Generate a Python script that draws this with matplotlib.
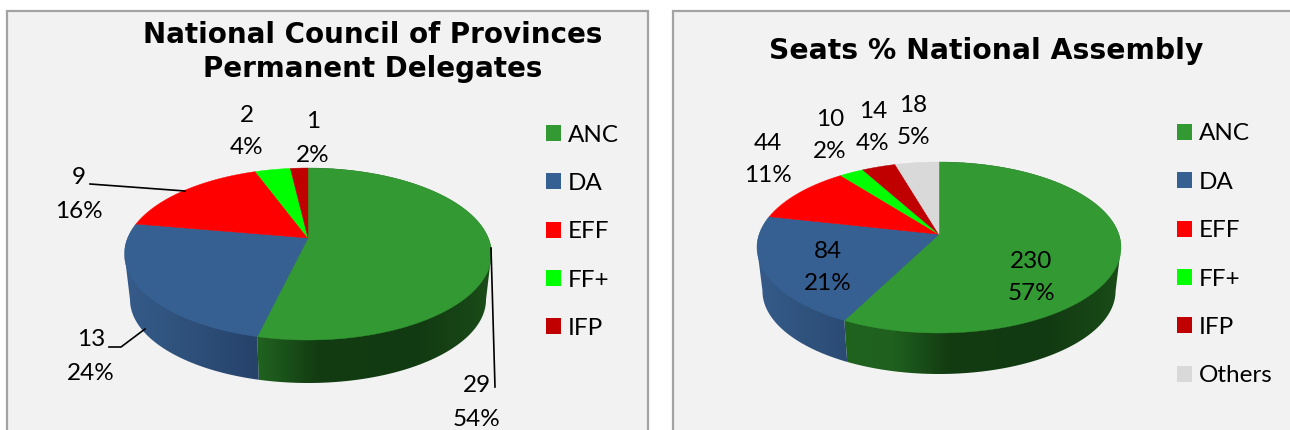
import numpy as np
import matplotlib
matplotlib.use('Agg')
import matplotlib.pyplot as plt
from matplotlib.patches import Polygon, Rectangle, Patch

plt.rcParams['font.family'] = ['Lato', 'DejaVu Sans']

# Chart data
parties_ncop = ['ANC', 'DA', 'EFF', 'FF+', 'IFP']
seats_ncop = [29, 13, 9, 2, 1]
pct_ncop = [54, 24, 16, 4, 2]

parties_na = ['ANC', 'DA', 'EFF', 'FF+', 'IFP', 'Others']
seats_na = [230, 84, 44, 10, 14, 18]
pct_na = [57, 21, 11, 2, 4, 5]

# Colours
colors = {'ANC': '#339933', 'DA': '#376092', 'EFF': '#ff0000',
          'FF+': '#00ff00', 'IFP': '#c00000', 'Others': '#d9d9d9'}
wall_stops = [-1.0, -0.7, -0.25, 0.05, 0.6, 1.0]
wall_colors = {'ANC': ['#20641f', '#20641f', '#1f601e', '#133c12', '#123a12', '#1a4c18'],
               'DA': ['#365b8a', '#2f527c', '#25416a', '#25416a', '#25416a', '#25416a']}
LABEL_SIZE = 17.5


def rim(theta, cx, apex_y, up, down, half_w):
    # perspective view of a flat disc, theta clockwise from the top
    k = (down - up) / (down + up)
    a = up * (1 + k)
    b = half_w * np.sqrt(1 - k ** 2)
    u, v = np.sin(theta), np.cos(theta)
    w = 1 + k * v
    return cx + b * u / w, apex_y - a * v / w


def wall_image(name):
    # one row gradient running left to right across the pie
    pos = np.linspace(-1, 1, 400)
    rgb = np.array([matplotlib.colors.to_rgb(c) for c in wall_colors[name]])
    return np.dstack([np.interp(pos, wall_stops, rgb[:, j]) for j in range(3)])


def draw_pie(ax, names, values, cx, apex_y, up, down, half_w, depth):
    shrink = 0.97
    bottom_y = apex_y + depth + down * (1 - shrink)
    k = (down - up) / (down + up)
    edges = np.radians(np.concatenate([[0], np.cumsum(values)]) / sum(values) * 360)

    # side wall, only ANC and DA can be seen
    for i, name in enumerate(names):
        if name not in wall_colors:
            continue
        thetas = np.linspace(edges[i], edges[i + 1], 300)
        tx, ty = rim(thetas, cx, apex_y, up, down, half_w)
        bx, by = rim(thetas, cx, bottom_y, up * shrink, down * shrink, half_w * shrink)
        # silhouette: back part follows the top rim, front part the bottom rim
        front = np.cos(thetas) < -k
        xs = np.where(front, bx, tx)
        ys = np.where(front, by, ty)
        pts = [(cx, apex_y), (tx[0], ty[0])] + list(zip(xs, ys)) + [(tx[-1], ty[-1])]
        band = Polygon(pts, closed=True, facecolor='none', edgecolor='none')
        ax.add_patch(band)
        im = ax.imshow(wall_image(name), extent=[cx - half_w, cx + half_w, apex_y + down + depth + 5, apex_y - up],
                       aspect='auto', zorder=2, interpolation='bilinear')
        im.set_clip_path(band)

    # top face
    for i, name in enumerate(names):
        thetas = np.linspace(edges[i], edges[i + 1], 200)
        xs, ys = rim(thetas, cx, apex_y, up, down, half_w)
        pts = [(cx, apex_y)] + list(zip(xs, ys))
        ax.add_patch(Polygon(pts, facecolor=colors[name], edgecolor=colors[name], lw=0.3, zorder=3))


def draw_labels(ax, values, pcts, spots):
    for val, pct, (x, y1, y2) in zip(values, pcts, spots):
        ax.text(x, y1, str(val), ha='center', va='center', fontsize=LABEL_SIZE, color='black', zorder=5)
        ax.text(x, y2, f'{pct}%', ha='center', va='center', fontsize=LABEL_SIZE, color='black', zorder=5)


def draw_legend(ax, names, x, y):
    handles = [Patch(facecolor=colors[n], edgecolor='none', label=n) for n in names]
    leg = ax.legend(handles=handles, loc='upper left', bbox_to_anchor=(x, y),
                    bbox_transform=ax.transData, frameon=False, fontsize=LABEL_SIZE,
                    handlelength=0.62, handleheight=0.62, handletextpad=0.27,
                    labelspacing=1.125, borderpad=0, borderaxespad=0)
    return leg


def main():
    fig = plt.figure(figsize=(12.9, 4.3), dpi=100, facecolor='white')
    ax = fig.add_axes([0, 0, 1, 1])

    # panels
    ax.add_patch(Rectangle((7, 11), 641, 440, facecolor='#f2f2f2', edgecolor='#a3a3a3', lw=1.6, zorder=0))
    ax.add_patch(Rectangle((673, 11), 640, 440, facecolor='#f2f2f2', edgecolor='#a3a3a3', lw=1.6, zorder=0))

    # left chart
    ax.text(373, 52, 'National Council of Provinces\nPermanent Delegates', ha='center', va='center',
            fontsize=20, fontweight='bold', family='DejaVu Sans', linespacing=1.245, zorder=5)
    draw_pie(ax, parties_ncop, seats_ncop, 308, 238, 70, 102, 183.5, 43)
    draw_labels(ax, seats_ncop, pct_ncop,
                [(476.5, 386, 419), (91, 340, 373), (79, 178, 211), (247, 115, 148), (313, 122, 155)])
    ax.plot([90, 185], [184, 191], color='black', lw=1.2, zorder=4)
    ax.plot([109, 121, 145], [347, 347, 329], color='black', lw=1.2, zorder=4)
    ax.plot([491, 495], [248, 387], color='black', lw=1.2, zorder=4)
    leg = draw_legend(ax, parties_ncop, 546, 124.5)
    ax.add_artist(leg)

    # right chart
    ax.text(986, 51, 'Seats % National Assembly', ha='center', va='center',
            fontsize=20.3, fontweight='bold', family='DejaVu Sans', zorder=5)
    draw_pie(ax, parties_na, seats_na, 939, 234.3, 72.3, 98.7, 182, 41)
    draw_labels(ax, seats_na, pct_na,
                [(1031, 261, 294), (828, 251, 284), (768, 143, 175), (830, 119, 152), (873, 111, 144), (913, 105, 138)])
    draw_legend(ax, parties_na, 1177, 123.5)

    ax.set_xlim(0, 1290)
    ax.set_ylim(430, 0)
    ax.axis('off')
    fig.savefig('out.png', dpi=100)


if __name__ == '__main__':
    main()
